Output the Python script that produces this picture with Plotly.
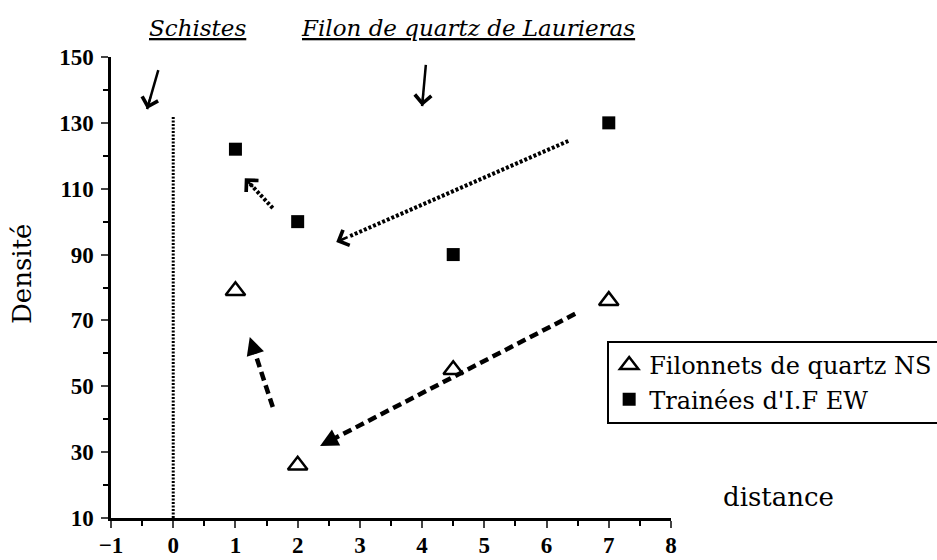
import numpy as np
import plotly.graph_objects as go

# data
distance = [1, 2, 4.5, 7]
filonnets_ns = [79, 26, 55, 76]      # triangles
trainees_ew = [122, 100, 90, 130]    # squares

# limite schistes / filon (x = 0)
limite_x = [0, 0]
limite_y = [10, 132]

# arrows: (tail x, tail y, tip x, tip y, style)
fleches = [
    (6.35, 124.5, 2.62, 93.8, 'dot'),
    (1.60, 104.1, 1.15, 113.2, 'dot'),
    (6.46, 72.0, 2.36, 31.9, 'dash'),
    (1.60, 43.7, 1.23, 65.0, 'dash'),
]
# hand-drawn arrows above the zones
fleches_main = [
    (-0.24, 146.0, -0.42, 134.2),
    (4.06, 147.6, 4.00, 135.1),
]

xr = [-1, 8]
yr = [10, 150]
W, H = 937, 560
ml, mr, mt, mb = 111, 266, 57, 42
px_x = (W - ml - mr) / (xr[1] - xr[0])
px_y = (H - mt - mb) / (yr[1] - yr[0])

serif = "DejaVu Serif"

fig = go.Figure()

fig.add_trace(go.Scatter(x=limite_x, y=limite_y, mode='lines', showlegend=False,
    line={'color': 'black', 'width': 3, 'dash': '2px,1.5px'}))

annots = []

def head(tx, ty, hx, hy, head_style, size, width):
	# arrow head drawn as a short annotation arrow, offset given in pixels
	dx = (tx - hx) * px_x
	dy = -(ty - hy) * px_y
	n = np.hypot(dx, dy)
	return dict(x=hx, y=hy, xref='x', yref='y', ax=dx / n * 14, ay=dy / n * 14,
		text='', showarrow=True, arrowhead=head_style, arrowsize=size,
		arrowwidth=width, arrowcolor='black')

for tx, ty, hx, hy, style in fleches:
	# stop the shaft slightly before the tip
	f = 0.06
	ex, ey = hx + (tx - hx) * f, hy + (ty - hy) * f
	if style == 'dot':
		line = {'color': 'black', 'width': 4, 'dash': '3px,2px'}
		annots.append(head(tx, ty, hx, hy, 4, 1.3, 2.5))
	else:
		line = {'color': 'black', 'width': 4.5, 'dash': '9px,5px'}
		annots.append(head(tx, ty, hx, hy, 2, 1.2, 3))
	fig.add_trace(go.Scatter(x=[tx, ex], y=[ty, ey], mode='lines', showlegend=False, line=line))

for tx, ty, hx, hy in fleches_main:
	fig.add_trace(go.Scatter(x=[tx, hx], y=[ty, hy], mode='lines', showlegend=False,
		line={'color': 'black', 'width': 2.5}))
	annots.append(head(tx, ty, hx, hy, 4, 1.6, 2))

fig.add_trace(go.Scatter(x=distance, y=filonnets_ns, mode='markers', name='Filonnets de quartz NS',
	marker={'symbol': 'triangle-up-open', 'size': 17, 'color': 'black', 'line': {'width': 2.5, 'color': 'black'}}))

fig.add_trace(go.Scatter(x=distance, y=trainees_ew, mode='markers', name="Trainées d'I.F EW",
	marker={'symbol': 'square', 'size': 13, 'color': 'black'}))

labels = [
	(197, 28, '<i><u>Schistes</u></i>', 23, 0),
	(468, 28, '<i><u>Filon de quartz de Laurieras</u></i>', 23, 0),
	(778, 497, 'distance', 26, 0),
	(22, 274, 'Densité', 26, -90),
]
# pixel-placed labels converted to paper coordinates
for px, py, txt, fs, ang in labels:
	annots.append(dict(x=(px - ml) / (W - ml - mr), y=(H - py - mb) / (H - mt - mb),
		xref='paper', yref='paper', xanchor='center', yanchor='middle',
		text=txt, showarrow=False, textangle=ang,
		font={'family': serif, 'size': fs, 'color': 'black'}))

tickfont = {'family': 'Liberation Serif', 'size': 23, 'color': 'black', 'weight': 'bold'}

fig.update_layout(
	width=W, height=H,
	margin={'l': ml, 'r': mr, 't': mt, 'b': mb, 'autoexpand': False},
	paper_bgcolor='white',
	plot_bgcolor='white',
	annotations=annots,
	xaxis={'range': xr, 'tickvals': list(range(-1, 9)), 'ticks': 'outside', 'ticklen': 7, 'tickwidth': 2,
		'showline': True, 'linecolor': 'black', 'linewidth': 2.5, 'showgrid': False, 'zeroline': False,
		'tickfont': tickfont, 'ticklabelstandoff': -2,
		'minor': {'dtick': 0.5, 'ticks': 'outside', 'ticklen': 5, 'tickwidth': 2, 'tickcolor': 'black'}},
	yaxis={'range': yr, 'tickvals': list(range(10, 151, 20)), 'ticks': 'outside', 'ticklen': 7, 'tickwidth': 2,
		'showline': True, 'linecolor': 'black', 'linewidth': 2.5, 'showgrid': False, 'zeroline': False,
		'tickfont': tickfont, 'ticklabelstandoff': 3,
		'minor': {'dtick': 10, 'ticks': 'outside', 'ticklen': 5, 'tickwidth': 2, 'tickcolor': 'black'}},
	legend={'x': 0.886, 'y': 0.384, 'xanchor': 'left', 'yanchor': 'top', 'bordercolor': 'black', 'borderwidth': 2,
		'bgcolor': 'white', 'itemwidth': 30, 'font': {'family': serif, 'size': 24, 'color': 'black'}},
)

fig.write_html("out.html", config={'displayModeBar': False},
	post_script="document.body.style.margin='0px';document.body.style.overflow='hidden';")
